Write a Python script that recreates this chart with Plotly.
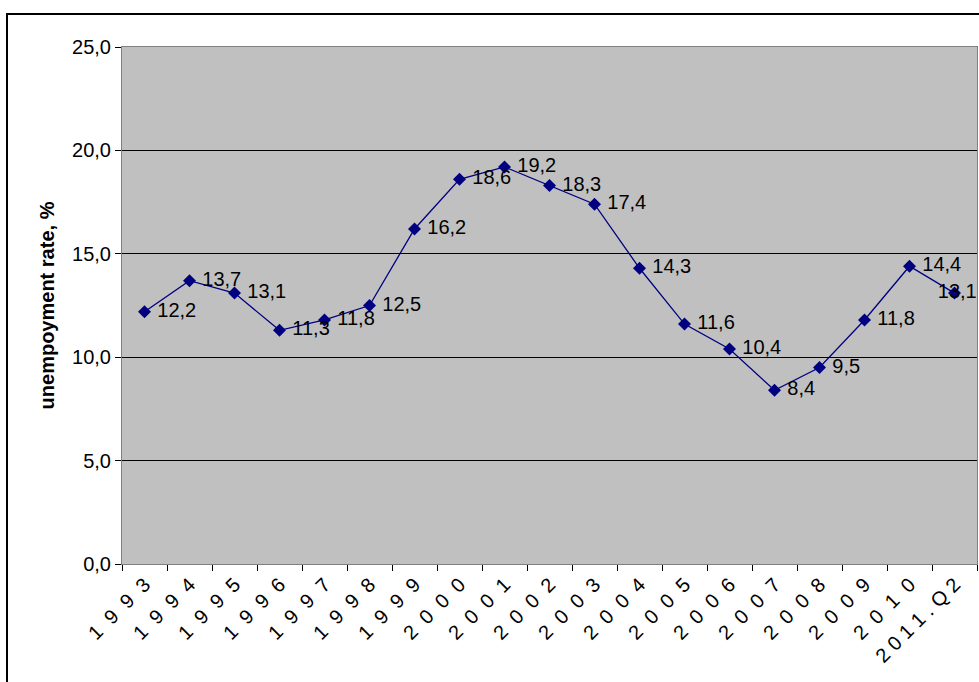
import plotly.graph_objects as go

# Annual unemployment rate, 1993 to 2011 Q2
periods = ["1993", "1994", "1995", "1996", "1997", "1998", "1999", "2000", "2001",
           "2002", "2003", "2004", "2005", "2006", "2007", "2008", "2009", "2010",
           "2011.Q2"]
rates = [12.2, 13.7, 13.1, 11.3, 11.8, 12.5, 16.2, 18.6, 19.2,
         18.3, 17.4, 14.3, 11.6, 10.4, 8.4, 9.5, 11.8, 14.4, 13.1]

# Spaced-out labels along the category axis (characters separated by wide gaps);
# the final quarter label is set tighter so it stays inside the page
GAP = "\u00a0\u00a0"
tick_labels = [GAP.join(p) for p in periods[:-1]] + ["\u00a0".join(periods[-1])]

W, H = 979, 682
ML, MR, MT, MB = 122, 2, 47, 118
PW, PH = W - ML - MR, H - MT - MB

NAVY = "#000080"
FONT = "Liberation Sans, Arial, sans-serif"

# value labels sit to the right of each marker; the last one is centred on
# its marker so it is not cut off by the right edge of the page
label_pos = ["middle right"] * (len(rates) - 1) + ["middle center"]

fig = go.Figure(go.Scatter(
    x=periods, y=rates,
    mode="lines+markers+text",
    line=dict(color=NAVY, width=1.3),
    marker=dict(symbol="diamond", size=10, color=NAVY),
    texttemplate="\u00a0%{y:.1f}",
    textposition=label_pos,
    textfont=dict(family=FONT, size=20, color="black"),
    cliponaxis=False,
))

fig.update_layout(
    width=W, height=H,
    margin=dict(l=ML, r=MR, t=MT, b=MB),
    paper_bgcolor="white",
    plot_bgcolor="#C0C0C0",
    separators=", ",
    showlegend=False,
    font=dict(family=FONT, size=20, color="black"),
    xaxis=dict(
        type="category",
        range=[-0.5, len(periods) - 0.5],
        automargin=False,
        tickmode="array", tickvals=periods, ticktext=tick_labels,
        tickangle=-45,
        ticks="outside", tickson="boundaries", ticklen=6, tickcolor="black",
        showgrid=False,
        showline=True, linecolor="#808080", linewidth=1, mirror=True,
        tickfont=dict(family=FONT, size=20),
    ),
    yaxis=dict(
        range=[0, 25], dtick=5, tickformat=".1f",
        automargin=False,
        ticks="outside", ticklen=6, tickcolor="black",
        showgrid=True, gridcolor="black", gridwidth=1,
        zeroline=False,
        showline=True, linecolor="#808080", linewidth=1, mirror=True,
        tickfont=dict(family=FONT, size=20),
        title=dict(text="<b>unempoyment rate, %</b>", standoff=12,
                   font=dict(family=FONT, size=20)),
    ),
    shapes=[dict(
        type="rect", xref="paper", yref="paper",
        x0=(7 - ML) / PW, x1=(W + 20 - ML) / PW,
        y0=(H - MB - (H + 20)) / PH, y1=(H - MB - 14) / PH,
        line=dict(color="black", width=2), fillcolor="rgba(0,0,0,0)",
        layer="below",
    )],
)

fig.write_html("out.html")
